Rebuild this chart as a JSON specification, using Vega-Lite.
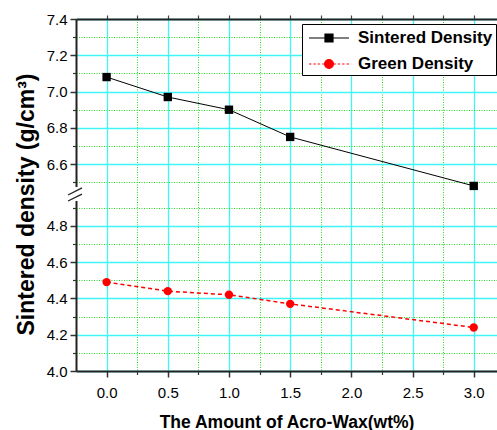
{
  "$schema": "https://vega.github.io/schema/vega-lite/v6.json",
  "width": 421,
  "height": 352,
  "autosize": {"type": "none"},
  "padding": {"left": 76, "top": 19, "right": 0, "bottom": 59},
  "config": {"view": {"stroke": null}, "font": "Liberation Sans"},
  "datasets": {
    "main": [
      {"x": 0.0, "density": 7.08, "series": "Sintered Density"},
      {"x": 0.5, "density": 6.97, "series": "Sintered Density"},
      {"x": 1.0, "density": 6.90, "series": "Sintered Density"},
      {"x": 1.5, "density": 6.75, "series": "Sintered Density"},
      {"x": 3.0, "density": 6.48, "series": "Sintered Density"},
      {"x": 0.0, "density": 4.49, "series": "Green Density"},
      {"x": 0.5, "density": 4.44, "series": "Green Density"},
      {"x": 1.0, "density": 4.42, "series": "Green Density"},
      {"x": 1.5, "density": 4.37, "series": "Green Density"},
      {"x": 3.0, "density": 4.24, "series": "Green Density"}
    ],
    "gap": [
      {"x": -0.25, "y": 4.937, "y2": 6.474}
    ],
    "slash": [
      {"x": -0.315, "x2": -0.201, "y": 4.97, "y2": 6.469},
      {"x": -0.315, "x2": -0.201, "y": 4.937, "y2": 6.435}
    ]
  },
  "layer": [
    {
      "data": {"name": "main"},
      "transform": [{"filter": "datum.series === 'Sintered Density'"}],
      "mark": {"type": "line", "color": "black", "strokeWidth": 1},
      "encoding": {
        "x": {
          "field": "x", "type": "quantitative",
          "scale": {"domain": [-0.25, 3.19], "nice": false, "zero": false},
          "axis": {
            "orient": "bottom",
            "values": [0, 0.5, 1, 1.5, 2, 2.5, 3],
            "format": ".1f",
            "labelFontSize": 15, "labelColor": "black", "labelPadding": 8,
            "tickSize": 6, "tickColor": "#333", "tickWidth": 1.5,
            "domainColor": "#222", "domainWidth": 2,
            "grid": true, "gridColor": "#40f5f5", "gridWidth": 1.3,
            "title": "The Amount of Acro-Wax(wt%)",
            "titleFontSize": 17.5, "titleFontWeight": "bold", "titleColor": "black", "titlePadding": 13
          }
        },
        "y": {
          "field": "density", "type": "quantitative",
          "scale": {"domain": [4.0, 4.97, 6.43, 7.4], "range": [352, 176, 176, 0], "nice": false, "zero": false},
          "axis": {
            "orient": "left",
            "values": [4.0, 4.2, 4.4, 4.6, 4.8, 6.6, 6.8, 7.0, 7.2, 7.4],
            "format": ".1f",
            "labelFontSize": 15, "labelColor": "black", "labelPadding": 3,
            "tickSize": 6, "tickColor": "#333", "tickWidth": 1.5,
            "domainColor": "#222", "domainWidth": 2,
            "grid": true, "gridColor": "#40f5f5", "gridWidth": 1.3,
            "title": "Sintered density (g/cm³)",
            "titleFontSize": 23, "titleFontWeight": "bold", "titleColor": "black", "titlePadding": 8,
            "titleY": 185
          }
        }
      }
    },
    {
      "data": {"name": "main"},
      "mark": {"type": "point", "opacity": 0},
      "encoding": {
        "x": {
          "field": "x", "type": "quantitative",
          "axis": {
            "orient": "bottom",
            "values": [0.25, 0.75, 1.25, 1.75, 2.25, 2.75],
            "labels": false, "domain": false,
            "tickSize": 3.5, "tickColor": "#333", "tickWidth": 1.2,
            "grid": true, "gridColor": "#22dd22", "gridDash": [1, 1.5], "gridWidth": 1,
            "title": null
          }
        },
        "y": {
          "field": "density", "type": "quantitative",
          "axis": {
            "orient": "left",
            "values": [4.1, 4.3, 4.5, 4.7, 4.9, 6.5, 6.7, 6.9, 7.1, 7.3],
            "labels": false, "domain": false,
            "tickSize": 3.5, "tickColor": "#333", "tickWidth": 1.2,
            "grid": true, "gridColor": "#22dd22", "gridDash": [1, 1.5], "gridWidth": 1,
            "title": null
          }
        }
      }
    },
    {
      "data": {"name": "main"},
      "mark": {"type": "point", "opacity": 0},
      "encoding": {
        "x": {
          "field": "x", "type": "quantitative",
          "axis": {
            "orient": "top",
            "values": [0, 0.25, 0.5, 0.75, 1, 1.25, 1.5, 1.75, 2, 2.25, 2.5, 2.75, 3],
            "labels": false, "grid": false,
            "tickSize": 4, "tickColor": "#444", "tickWidth": 1.2,
            "domainColor": "#222", "domainWidth": 2,
            "title": null
          }
        },
        "y": {"field": "density", "type": "quantitative", "axis": null}
      }
    },
    {
      "data": {"name": "main"},
      "transform": [{"filter": "datum.series === 'Green Density'"}],
      "mark": {"type": "line", "color": "red", "strokeWidth": 1.5, "strokeDash": [4, 3]},
      "encoding": {
        "x": {"field": "x", "type": "quantitative", "axis": null},
        "y": {"field": "density", "type": "quantitative", "axis": null}
      }
    },
    {
      "data": {"name": "main"},
      "transform": [{"filter": "datum.series === 'Sintered Density'"}],
      "mark": {"type": "point", "shape": "square", "filled": true, "color": "black", "size": 70, "opacity": 1},
      "encoding": {
        "x": {"field": "x", "type": "quantitative", "axis": null},
        "y": {"field": "density", "type": "quantitative", "axis": null}
      }
    },
    {
      "data": {"name": "main"},
      "transform": [{"filter": "datum.series === 'Green Density'"}],
      "mark": {"type": "point", "shape": "circle", "filled": true, "color": "red", "size": 70, "opacity": 1},
      "encoding": {
        "x": {"field": "x", "type": "quantitative", "axis": null},
        "y": {"field": "density", "type": "quantitative", "axis": null}
      }
    },
    {
      "data": {"name": "gap"},
      "mark": {"type": "rule", "color": "white", "strokeWidth": 5},
      "encoding": {
        "x": {"field": "x", "type": "quantitative", "axis": null},
        "y": {"field": "y", "type": "quantitative", "axis": null},
        "y2": {"field": "y2"}
      }
    },
    {
      "data": {"name": "slash"},
      "mark": {"type": "rule", "color": "#222", "strokeWidth": 1.3},
      "encoding": {
        "x": {"field": "x", "type": "quantitative", "axis": null},
        "x2": {"field": "x2"},
        "y": {"field": "y", "type": "quantitative", "axis": null},
        "y2": {"field": "y2"}
      }
    },
    {
      "data": {"name": "main"},
      "mark": {"type": "point", "filled": true, "opacity": 0, "strokeWidth": 1.2},
      "encoding": {
        "x": {"field": "x", "type": "quantitative", "axis": null},
        "y": {"field": "density", "type": "quantitative", "axis": null},
        "fill": {
          "field": "series", "type": "nominal",
          "scale": {"domain": ["Sintered Density", "Green Density"], "range": ["black", "red"]},
          "legend": {
            "orient": "none", "legendX": 226, "legendY": 5, "title": null,
            "strokeColor": "black", "fillColor": "white", "padding": 3,
            "symbolSize": 400, "symbolStrokeWidth": 1.2, "symbolOpacity": 1,
            "labelFontSize": 17, "labelFontWeight": "bold", "labelColor": "black",
            "labelOffset": 31, "rowPadding": 7
          }
        },
        "stroke": {
          "field": "series", "type": "nominal",
          "scale": {"domain": ["Sintered Density", "Green Density"], "range": ["black", "red"]},
          "legend": {
            "orient": "none", "legendX": 226, "legendY": 5, "title": null,
            "strokeColor": "black", "fillColor": "white", "padding": 3,
            "symbolSize": 400, "symbolStrokeWidth": 1.2, "symbolOpacity": 1,
            "labelFontSize": 17, "labelFontWeight": "bold", "labelColor": "black",
            "labelOffset": 31, "rowPadding": 7
          }
        },
        "shape": {
          "field": "series", "type": "nominal",
          "scale": {
            "domain": ["Sintered Density", "Green Density"],
            "range": [
              "M-0.7,0L0.9,0M1.7,0L3.3,0M0.9,-0.4L1.7,-0.4L1.7,0.4L0.9,0.4Z",
              "M-0.7,0L-0.46,0M-0.26,0L-0.02,0M0.18,0L0.42,0M0.62,0L0.82,0M1.78,0L1.98,0M2.18,0L2.42,0M2.62,0L2.86,0M3.06,0L3.3,0M0.86,0A0.44,0.44,0,1,0,1.74,0A0.44,0.44,0,1,0,0.86,0Z"
            ]
          },
          "legend": {
            "orient": "none", "legendX": 226, "legendY": 5, "title": null,
            "strokeColor": "black", "fillColor": "white", "padding": 3,
            "symbolSize": 400, "symbolStrokeWidth": 1.2, "symbolOpacity": 1,
            "labelFontSize": 17, "labelFontWeight": "bold", "labelColor": "black",
            "labelOffset": 31, "rowPadding": 7
          }
        }
      }
    }
  ],
  "resolve": {"axis": {"x": "independent", "y": "independent"}}
}
